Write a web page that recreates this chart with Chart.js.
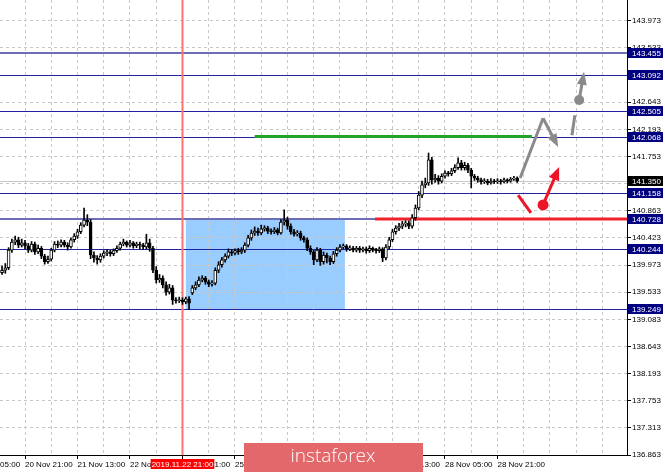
<!DOCTYPE html>
<html>
<head>
<meta charset="utf-8">
<script src="https://cdn.jsdelivr.net/npm/chart.js@4.4.0/dist/chart.umd.min.js"></script>
<style>
  html, body { margin: 0; padding: 0; background: #fff; }
  #wrap { position: relative; width: 665px; height: 474px; }
</style>
</head>
<body>
<div id="wrap"><canvas id="priceChart" width="665" height="474"></canvas></div>
<script>
// H1 bars, index 0 = 20 Nov 21:00
const firstBar = -7;
const opens = [
  139.85, 139.89, 139.93, 140.22, 140.35, 140.39, 140.30, 140.34, 140.29, 140.22,
  140.32, 140.19, 140.25, 140.12, 140.03, 140.07, 140.22, 140.32, 140.30, 140.35,
  140.30, 140.27, 140.39, 140.45, 140.52, 140.63, 140.71, 140.68, 140.14, 140.09,
  140.06, 140.12, 140.17, 140.19, 140.16, 140.21, 140.25, 140.32, 140.35, 140.30,
  140.34, 140.29, 140.32, 140.30, 140.27, 140.34, 140.25, 139.89, 139.73, 139.76,
  139.65, 139.53, 139.60, 139.40, 139.39, 139.40, 139.37, 139.42, 139.52, 139.60,
  139.65, 139.73, 139.76, 139.70, 139.66, 139.68, 139.89, 139.98, 140.06, 140.12,
  140.19, 140.17, 140.21, 140.19, 140.22, 140.30, 140.42, 140.50, 140.53, 140.50,
  140.57, 140.58, 140.53, 140.52, 140.55, 140.50, 140.68, 140.71, 140.61, 140.52,
  140.48, 140.50, 140.42, 140.39, 140.25, 140.19, 140.06, 140.22, 140.03, 140.14,
  140.09, 140.03, 140.16, 140.22, 140.27, 140.29, 140.24, 140.25, 140.22, 140.25,
  140.22, 140.24, 140.21, 140.25, 140.22, 140.21, 140.24, 140.09, 140.27, 140.39,
  140.52, 140.58, 140.61, 140.65, 140.66, 140.61, 140.75, 140.91, 141.12, 141.29,
  141.32, 141.70, 141.37, 141.40, 141.35, 141.43, 141.48, 141.47, 141.52, 141.57,
  141.65, 141.57, 141.61, 141.53, 141.43, 141.40, 141.37, 141.34, 141.35, 141.32,
  141.35, 141.34, 141.35, 141.34, 141.37, 141.35, 141.38, 141.40
];
const highs = [
  139.96, 140.00, 140.26, 140.40, 140.45, 140.43, 140.40, 140.38, 140.33, 140.36,
  140.35, 140.30, 140.28, 140.15, 140.12, 140.25, 140.36, 140.37, 140.39, 140.38,
  140.34, 140.42, 140.49, 140.56, 140.67, 140.91, 140.80, 140.72, 140.19, 140.13,
  140.16, 140.21, 140.23, 140.22, 140.24, 140.29, 140.35, 140.40, 140.37, 140.38,
  140.36, 140.35, 140.35, 140.33, 140.48, 140.40, 140.28, 139.95, 139.82, 139.80,
  139.70, 139.66, 139.64, 139.44, 139.45, 139.44, 139.45, 139.46, 139.64, 139.70,
  139.78, 139.80, 139.79, 139.73, 139.72, 139.93, 140.03, 140.10, 140.16, 140.24,
  140.23, 140.24, 140.25, 140.26, 140.34, 140.46, 140.55, 140.60, 140.58, 140.63,
  140.62, 140.61, 140.57, 140.59, 140.58, 140.72, 140.88, 140.76, 140.65, 140.56,
  140.54, 140.53, 140.45, 140.42, 140.29, 140.22, 140.26, 140.25, 140.19, 140.17,
  140.12, 140.20, 140.26, 140.31, 140.32, 140.31, 140.29, 140.28, 140.28, 140.28,
  140.27, 140.27, 140.29, 140.27, 140.25, 140.27, 140.26, 140.31, 140.43, 140.56,
  140.62, 140.66, 140.69, 140.70, 140.70, 140.80, 140.96, 141.18, 141.35, 141.40,
  141.81, 141.74, 141.46, 141.44, 141.47, 141.52, 141.51, 141.56, 141.62, 141.73,
  141.69, 141.66, 141.64, 141.56, 141.46, 141.43, 141.40, 141.39, 141.38, 141.39,
  141.38, 141.39, 141.38, 141.40, 141.39, 141.41, 141.43, 141.42
];
const lows = [
  139.82, 139.84, 139.90, 140.18, 140.31, 140.26, 140.27, 140.24, 140.18, 140.19,
  140.15, 140.16, 140.08, 139.99, 140.00, 140.04, 140.19, 140.26, 140.27, 140.27,
  140.22, 140.25, 140.35, 140.41, 140.49, 140.60, 140.62, 140.08, 140.02, 139.99,
  140.02, 140.09, 140.13, 140.12, 140.13, 140.18, 140.22, 140.29, 140.27, 140.27,
  140.25, 140.26, 140.24, 140.23, 140.24, 140.20, 139.85, 139.68, 139.69, 139.60,
  139.48, 139.50, 139.33, 139.35, 139.36, 139.33, 139.34, 139.25, 139.49, 139.57,
  139.62, 139.70, 139.66, 139.62, 139.63, 139.65, 139.85, 139.94, 140.02, 140.09,
  140.13, 140.14, 140.15, 140.16, 140.18, 140.27, 140.38, 140.46, 140.46, 140.47,
  140.53, 140.49, 140.48, 140.49, 140.47, 140.48, 140.63, 140.56, 140.48, 140.45,
  140.45, 140.38, 140.35, 140.21, 140.15, 139.98, 140.03, 139.97, 139.99, 140.01,
  139.98, 140.00, 140.12, 140.19, 140.24, 140.20, 140.21, 140.19, 140.19, 140.18,
  140.19, 140.17, 140.18, 140.19, 140.17, 140.18, 140.03, 140.06, 140.24, 140.36,
  140.48, 140.54, 140.57, 140.60, 140.57, 140.58, 140.71, 140.88, 141.08, 141.24,
  141.28, 141.30, 141.33, 141.30, 141.32, 141.40, 141.43, 141.44, 141.49, 141.54,
  141.53, 141.53, 141.49, 141.24, 141.36, 141.33, 141.30, 141.31, 141.29, 141.30,
  141.31, 141.31, 141.30, 141.32, 141.32, 141.33, 141.36, 141.33
];
const closes = [
  139.89, 139.93, 140.22, 140.35, 140.39, 140.30, 140.34, 140.29, 140.22, 140.32,
  140.19, 140.25, 140.12, 140.03, 140.07, 140.22, 140.32, 140.30, 140.35, 140.30,
  140.27, 140.39, 140.45, 140.52, 140.63, 140.71, 140.68, 140.14, 140.09, 140.06,
  140.12, 140.17, 140.19, 140.16, 140.21, 140.25, 140.32, 140.35, 140.30, 140.34,
  140.29, 140.32, 140.30, 140.27, 140.34, 140.25, 139.89, 139.73, 139.76, 139.65,
  139.53, 139.60, 139.40, 139.39, 139.40, 139.37, 139.42, 139.35, 139.60, 139.65,
  139.73, 139.76, 139.70, 139.66, 139.68, 139.89, 139.98, 140.06, 140.12, 140.19,
  140.17, 140.21, 140.19, 140.22, 140.30, 140.42, 140.50, 140.53, 140.50, 140.57,
  140.58, 140.53, 140.52, 140.55, 140.50, 140.68, 140.71, 140.61, 140.52, 140.48,
  140.50, 140.42, 140.39, 140.25, 140.19, 140.06, 140.22, 140.03, 140.14, 140.09,
  140.03, 140.16, 140.22, 140.27, 140.29, 140.24, 140.25, 140.22, 140.25, 140.22,
  140.24, 140.21, 140.25, 140.22, 140.21, 140.24, 140.09, 140.27, 140.39, 140.52,
  140.58, 140.61, 140.65, 140.66, 140.61, 140.75, 140.91, 141.12, 141.29, 141.32,
  141.70, 141.37, 141.40, 141.35, 141.43, 141.48, 141.47, 141.52, 141.57, 141.65,
  141.57, 141.61, 141.53, 141.43, 141.40, 141.37, 141.34, 141.35, 141.32, 141.35,
  141.34, 141.35, 141.34, 141.37, 141.35, 141.38, 141.40, 141.35
];

const priceTicks = [136.863, 137.313, 137.753, 138.193, 138.643, 139.083, 139.533, 139.973,
  140.423, 140.863, 141.313, 141.753, 142.193, 142.643, 143.083, 143.533, 143.973];
const gridBars = [-16, -8, 0, 8, 16, 24, 32, 40, 48, 56, 64, 72, 80, 88, 96, 104, 112, 120,
  128, 136, 144, 152, 160, 168, 176];
const timeTickBars = [-16, 0, 16, 32, 48, 64, 80, 96, 112, 128, 144];
const timeTickLabels = ['20 Nov 05:00', '20 Nov 21:00', '21 Nov 13:00', '22 Nov 05:00', '22 Nov 21:00',
  '25 Nov 13:00', '26 Nov 05:00', '26 Nov 21:00', '27 Nov 13:00', '28 Nov 05:00', '28 Nov 21:00'];

// levels drawn on the chart
const levels = [143.455, 143.092, 142.505, 142.068, 141.158, 140.728, 140.244, 139.249];
const lightLevels = [143.455, 140.728];
const bidPrice = 141.350;
const zone = { from: 49, to: 97.5, top: 140.72, bottom: 139.249 };
const greenLine = { from: 70, to: 154.5, value: 142.08 };
const redLine = { from: 106.7, value: 140.728 };
const markerBar = 48;
const markerText = '2019.11.22 21:00';

// forecast marks (bar index, price)
const greyPath = [[150.9, 141.40], [157.9, 142.38], [162.5, 141.91]];
const greyDash = [[166.7, 142.10], [167.6, 142.43]];
const greyDot = [168.9, 142.68];
const greyTip = [170.4, 143.14];
const redDash = [[150.3, 141.12], [154.2, 140.83]];
const redDot = [157.9, 140.96];
const redTip = [162.8, 141.58];

const FONT = 'Liberation Sans, Arial, sans-serif';

function arrow(ctx, x1, y1, x2, y2, color, len, wid) {
  const a = Math.atan2(y2 - y1, x2 - x1);
  ctx.strokeStyle = color;
  ctx.fillStyle = color;
  ctx.beginPath();
  ctx.moveTo(x1, y1);
  ctx.lineTo(x2 - len * 0.8 * Math.cos(a), y2 - len * 0.8 * Math.sin(a));
  ctx.stroke();
  ctx.beginPath();
  ctx.moveTo(x2, y2);
  ctx.lineTo(x2 - len * Math.cos(a) + wid / 2 * Math.sin(a), y2 - len * Math.sin(a) - wid / 2 * Math.cos(a));
  ctx.lineTo(x2 - len * Math.cos(a) - wid / 2 * Math.sin(a), y2 - len * Math.sin(a) + wid / 2 * Math.cos(a));
  ctx.closePath();
  ctx.fill();
}

const overlay = {
  id: 'overlay',
  beforeDraw(chart) {
    const { ctx, scales: { x, y } } = chart;
    ctx.save();
    ctx.fillStyle = '#99CCFF';
    const x1 = x.getPixelForValue(zone.from), x2 = x.getPixelForValue(zone.to);
    const y1 = y.getPixelForValue(zone.top), y2 = y.getPixelForValue(zone.bottom);
    ctx.fillRect(x1, y1, x2 - x1, y2 - y1);
    ctx.restore();
  },
  beforeDatasetsDraw(chart) {
    const { ctx, chartArea: a, scales: { x, y } } = chart;
    ctx.save();
    // bid line
    let py = Math.round(y.getPixelForValue(bidPrice)) + 0.5;
    ctx.strokeStyle = '#C8C8C8';
    ctx.lineWidth = 1;
    ctx.beginPath(); ctx.moveTo(a.left, py); ctx.lineTo(a.right, py); ctx.stroke();
    levels.forEach(v => {
      const light = lightLevels.includes(v);
      const p = Math.round(y.getPixelForValue(v)) + (light ? 0 : 0.5);
      ctx.strokeStyle = light ? '#6E6EB8' : '#2222A0';
      ctx.lineWidth = light ? 2 : 1;
      ctx.beginPath(); ctx.moveTo(a.left, p); ctx.lineTo(a.right, p); ctx.stroke();
    });
    // red marker
    const mx = x.getPixelForValue(markerBar);
    ctx.strokeStyle = '#FF7070';
    ctx.lineWidth = 2;
    ctx.beginPath(); ctx.moveTo(mx, a.top); ctx.lineTo(mx, a.bottom); ctx.stroke();
    // green
    py = y.getPixelForValue(greenLine.value);
    ctx.strokeStyle = '#1FA32A';
    ctx.lineWidth = 3;
    ctx.beginPath(); ctx.moveTo(x.getPixelForValue(greenLine.from), py); ctx.lineTo(x.getPixelForValue(greenLine.to), py); ctx.stroke();
    // red horizontal
    py = y.getPixelForValue(redLine.value);
    ctx.strokeStyle = '#F0202C';
    ctx.beginPath(); ctx.moveTo(x.getPixelForValue(redLine.from), py); ctx.lineTo(a.right, py); ctx.stroke();
    ctx.restore();
  },
  afterDatasetsDraw(chart) {
    const { ctx, scales: { x, y } } = chart;
    const P = p => [x.getPixelForValue(p[0]), y.getPixelForValue(p[1])];
    ctx.save();
    ctx.lineWidth = 3;
    ctx.lineCap = 'butt';
    ctx.lineJoin = 'miter';
    const grey = '#8A8A8A', red = '#EE1428';
    // grey path with arrow at end
    const g = greyPath.map(P);
    ctx.strokeStyle = grey;
    ctx.beginPath(); ctx.moveTo(g[0][0], g[0][1]); ctx.lineTo(g[1][0], g[1][1]); ctx.stroke();
    arrow(ctx, g[1][0], g[1][1], g[2][0], g[2][1], grey, 13, 10);
    const gd = greyDash.map(P);
    ctx.beginPath(); ctx.moveTo(gd[0][0], gd[0][1]); ctx.lineTo(gd[1][0], gd[1][1]); ctx.stroke();
    const gdot = P(greyDot), gtip = P(greyTip);
    arrow(ctx, gdot[0], gdot[1], gtip[0], gtip[1], grey, 13, 10);
    ctx.beginPath(); ctx.arc(gdot[0], gdot[1], 5, 0, Math.PI * 2); ctx.fill();
    // red
    const rd = redDash.map(P);
    ctx.strokeStyle = red;
    ctx.beginPath(); ctx.moveTo(rd[0][0], rd[0][1]); ctx.lineTo(rd[1][0], rd[1][1]); ctx.stroke();
    const rdot = P(redDot), rtip = P(redTip);
    arrow(ctx, rdot[0], rdot[1], rtip[0], rtip[1], red, 13, 11);
    ctx.beginPath(); ctx.arc(rdot[0], rdot[1], 5.5, 0, Math.PI * 2); ctx.fill();
    ctx.restore();
  },
  afterDraw(chart) {
    const { ctx, chartArea: a, scales: { x, y } } = chart;
    ctx.save();
    ctx.font = '8px ' + FONT;
    ctx.textBaseline = 'middle';
    ctx.textAlign = 'left';
    const box = (v, bg) => {
      const p = Math.round(y.getPixelForValue(v));
      ctx.fillStyle = bg;
      ctx.fillRect(a.right + 1, p - 5, 35, 10);
      ctx.fillStyle = '#fff';
      ctx.fillText(v.toFixed(3), a.right + 5, p + 0.5);
    };
    levels.forEach(v => box(v, '#000080'));
    box(bidPrice, '#000');
    // time marker box
    const mx = x.getPixelForValue(markerBar);
    const w = ctx.measureText(markerText).width + 2;
    ctx.fillStyle = '#FF0000';
    ctx.fillRect(mx - w / 2, a.bottom + 4, w, 10);
    ctx.fillStyle = '#fff';
    ctx.textAlign = 'center';
    ctx.fillText(markerText, mx, a.bottom + 9.5);
    // watermark
    ctx.fillStyle = '#E2686C';
    ctx.fillRect(244, 443, 179, 29);
    ctx.fillStyle = '#fff';
    ctx.font = '300 19px "Open Sans", Lato, sans-serif';
    ctx.fillText('instaforex', 333, 457);
    ctx.restore();
  }
};

const ctx = document.getElementById('priceChart').getContext('2d');

const bodyData = opens.map((o, i) => ({ x: firstBar + i, y: [o, closes[i]] }));
const wickData = opens.map((o, i) => ({ x: firstBar + i, y: [lows[i], highs[i]] }));

const chart = new Chart(ctx, {
  type: 'bar',
  data: {
    datasets: [{
      data: bodyData,
      barThickness: 3,
      grouped: false,
      minBarLength: 1,
      borderWidth: 1,
      borderSkipped: false,
      borderColor: '#000',
      backgroundColor: c => closes[c.dataIndex] >= opens[c.dataIndex] ? '#fff' : '#000'
    }, {
      data: wickData,
      barThickness: 1,
      grouped: false,
      backgroundColor: '#000',
      borderWidth: 0
    }]
  },
  options: {
    responsive: false,
    animation: false,
    devicePixelRatio: 1,
    layout: { padding: 0 },
    plugins: { legend: { display: false }, tooltip: { enabled: false } },
    scales: {
      x: {
        type: 'linear',
        position: 'bottom',
        offset: false,
        min: -7.62,
        max: 183.48,
        afterBuildTicks: s => { s.ticks = gridBars.map(v => ({ value: v })); },
        afterFit: s => { s.height = 19; s.paddingLeft = 0; s.paddingRight = 0; },
        ticks: {
          autoSkip: false, maxRotation: 0, align: 'start', padding: 1,
          color: '#000', font: { family: FONT, size: 8 },
          callback: v => { const i = timeTickBars.indexOf(v); return i < 0 ? '' : timeTickLabels[i]; }
        },
        grid: {
          offset: false,
          color: '#C8C8C8', tickLength: 4,
          tickColor: c => (c.tick && timeTickBars.includes(c.tick.value)) ? '#000' : 'rgba(0,0,0,0)'
        },
        border: { color: '#000', dash: [3, 3] }
      },
      y: {
        type: 'linear',
        position: 'right',
        min: 136.863,
        max: 144.317,
        afterBuildTicks: s => { s.ticks = priceTicks.map(v => ({ value: v })); },
        afterFit: s => { s.width = 38; s.paddingTop = 0; s.paddingBottom = 0; },
        ticks: {
          autoSkip: false, padding: 1, color: '#000', font: { family: FONT, size: 8 },
          callback: v => v.toFixed(3)
        },
        grid: { color: '#C8C8C8', tickLength: 4, tickColor: '#000' },
        border: { color: '#000', dash: [3, 3] }
      }
    }
  },
  plugins: [overlay]
});
</script>
</body>
</html>
